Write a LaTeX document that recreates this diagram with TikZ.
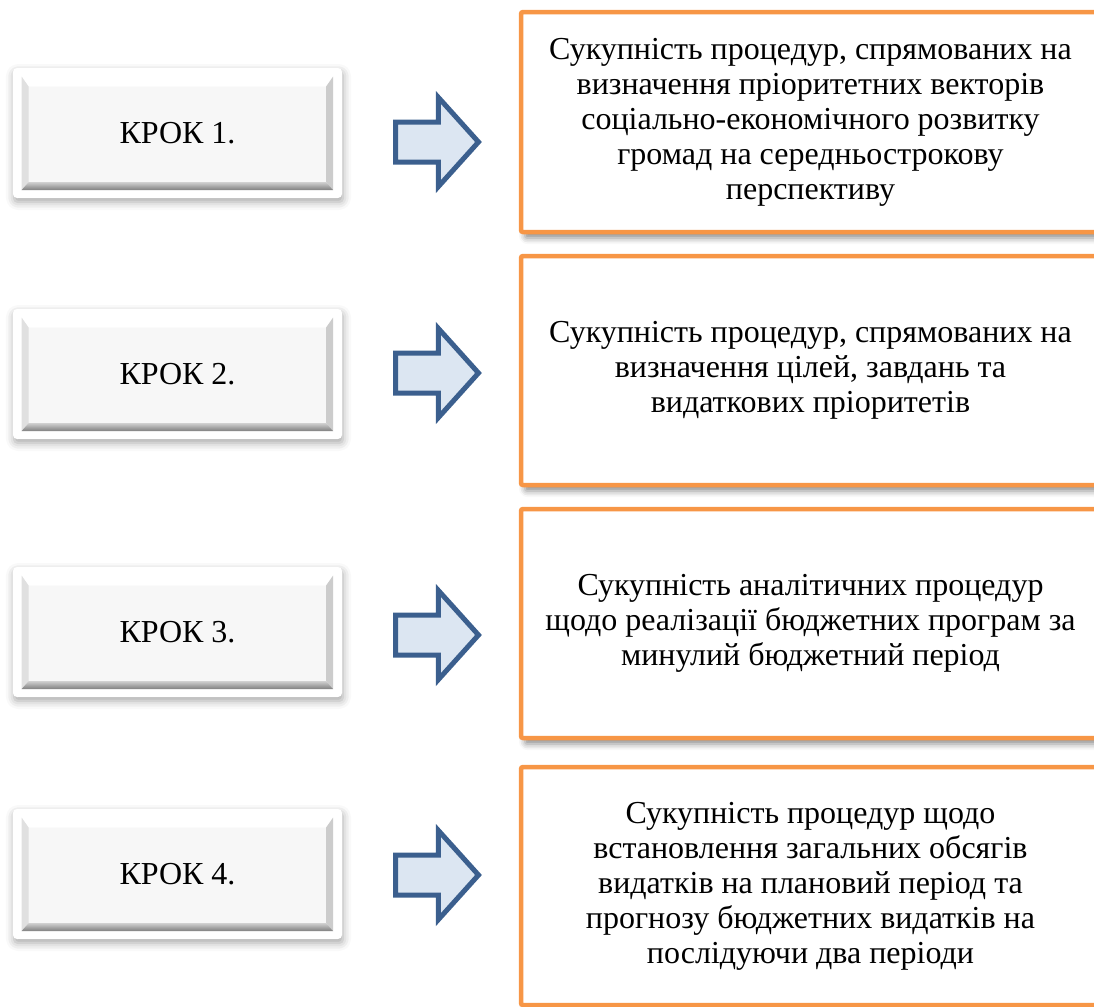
\documentclass[tikz,border=0pt]{standalone}
\usepackage{fontspec}
\setmainfont{Liberation Serif}
\usetikzlibrary{calc,shapes.arrows,shadows.blur}

\definecolor{pomaranch}{HTML}{F79646}
\definecolor{synij}{HTML}{3B5F8E}
\definecolor{blakytnyj}{HTML}{DCE6F2}

\tikzset{
  krokbox/.style={rectangle,rounded corners=2pt,fill=white,inner sep=0pt,
    minimum width=164.5pt,minimum height=65pt,
    blur shadow={shadow xshift=0.5pt,shadow yshift=-2pt,shadow blur radius=4pt,shadow opacity=35},
    path picture={
      \begin{scope}[sharp corners]
      \coordinate (bsw) at ([shift={(4.35pt,4pt)}]path picture bounding box.south west);
      \coordinate (bne) at ([shift={(-4.5pt,-4.35pt)}]path picture bounding box.north east);
      \coordinate (fsw) at ([shift={(3.5pt,4pt)}]bsw);
      \coordinate (fne) at ([shift={(-3.5pt,-5pt)}]bne);
      \fill[black!4] (bsw) rectangle (bne);
      \fill[white] (bsw |- bne) -- (bne) -- (fne) -- (fsw |- fne) -- cycle;
      \fill[black!12] (bsw) -- (fsw) -- (fsw |- fne) -- (bsw |- bne) -- cycle;
      \fill[black!20] (bsw -| bne) -- (bne) -- (fne) -- (fsw -| fne) -- cycle;
      \shade[top color=black!18,bottom color=black!50] (bsw) -- (bsw -| bne) -- (fsw -| fne) -- (fsw) -- cycle;
      \fill[black!3] (fsw) rectangle (fne);
      \end{scope}
    }},
  procbox/.style={rectangle,draw=pomaranch,line width=2.25pt,fill=white,
    rounded corners=1pt,minimum width=289.5pt,inner sep=0pt,align=center,
    blur shadow={shadow xshift=2pt,shadow yshift=-3pt,shadow blur radius=3pt,shadow opacity=45}},
  pil/.style={single arrow,draw=synij,fill=blakytnyj,line width=2.5pt,
    inner xsep=0pt,inner ysep=8.75pt,minimum height=41.5pt,minimum width=42pt,
    single arrow head extend=12.25pt,single arrow tip angle=96,
    single arrow head indent=0pt}
}

\begin{document}
\begin{tikzpicture}[x=0.5pt,y=-0.5pt,font=\fontsize{16}{17.5}\selectfont]
\useasboundingbox (0,0) rectangle (1094,1007);

% steps
\foreach \i / \y in {1/133,2/374,3/632,4/874}
  \node [krokbox] (k\i) at (177.5,\y) {КРОК \i.};

% arrows
\foreach \i / \y in {1/142,2/373,3/635,4/875}
  \node [pil] (a\i) at (428,\y) {};

% procedures
\def\procs{1/122/110/{Сукупність процедур, спрямованих на\\визначення пріоритетних векторів\\соціально-економічного розвитку\\громад на середньострокову\\перспективу},
  2/370.5/114.5/{Сукупність процедур, спрямованих на\\визначення цілей, завдань та\\видаткових пріоритетів},
  3/623.5/114.5/{Сукупність аналітичних процедур\\щодо реалізації бюджетних програм за\\минулий бюджетний період},
  4/886/119/{Сукупність процедур щодо\\встановлення загальних обсягів\\видатків на плановий період та\\прогнозу бюджетних видатків на\\послідуючи два періоди}}
\foreach \i / \y / \h / \tekst in \procs
  \node [procbox,minimum height=\h pt] (p\i) at (810.5,\y) {\tekst};

\end{tikzpicture}
\end{document}
